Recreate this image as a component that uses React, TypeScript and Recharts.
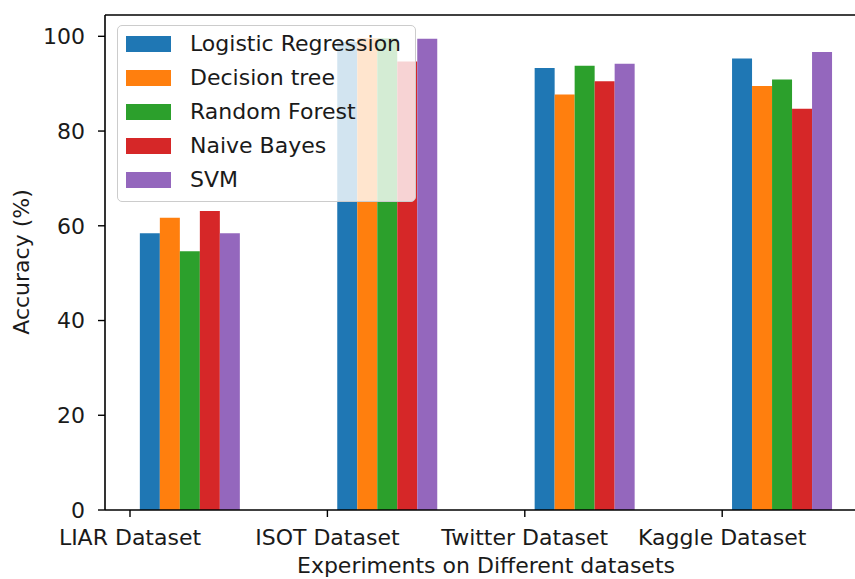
import { Bar, BarChart, Legend, ReferenceLine, XAxis, YAxis } from 'recharts';

const categories = ['LIAR Dataset', 'ISOT Dataset', 'Twitter Dataset', 'Kaggle Dataset'];
const logisticRegression = [58.4, 98.8, 93.3, 95.3];
const decisionTree = [61.7, 99.6, 87.7, 89.5];
const randomForest = [54.6, 99.6, 93.8, 90.9];
const naiveBayes = [63.1, 94.7, 90.5, 84.7];
const svm = [58.4, 99.5, 94.2, 96.7];
const yTicks = [0, 20, 40, 60, 80, 100];
const yMax = 104.5;

const series = [
  { key: 'lr', name: 'Logistic Regression', color: '#1f77b4', values: logisticRegression },
  { key: 'dt', name: 'Decision tree', color: '#ff7f0e', values: decisionTree },
  { key: 'rf', name: 'Random Forest', color: '#2ca02c', values: randomForest },
  { key: 'nb', name: 'Naive Bayes', color: '#d62728', values: naiveBayes },
  { key: 'svm', name: 'SVM', color: '#9467bd', values: svm },
];

const rows = categories.map((name, i) => {
  const row: Record<string, string | number> = { name };
  series.forEach(s => { row[s.key] = s.values[i]; });
  return row;
});

const FONT = '"DejaVu Sans", sans-serif';
const TEXT = '#1a1a1a';
// matplotlib puts the tick at the left of each group: group centre - 0.3 of a step
const TICK_SHIFT = 59.2;

function DatasetTick({ x, y, payload }: any) {
  const tx = x - TICK_SHIFT;
  return (
    <g>
      <line x1={tx} y1={y - 7} x2={tx} y2={y} stroke="#000" strokeWidth={1.4} />
      <text x={tx} y={y + 28} textAnchor="middle" fontFamily={FONT} fontSize={22} fill={TEXT}>
        {payload.value}
      </text>
    </g>
  );
}

// legend keeps the plotting order of the series (recharts would sort it)
function LegendBox() {
  return (
    <div
      style={{
        width: 299,
        height: 177,
        boxSizing: 'border-box',
        background: 'rgba(255,255,255,0.8)',
        border: '1.5px solid #cccccc',
        borderRadius: 5,
        paddingTop: 1,
        fontFamily: FONT,
        fontSize: 22,
        color: TEXT,
      }}
    >
      {series.map(s => (
        <div key={s.key} style={{ display: 'flex', alignItems: 'center', height: 34 }}>
          <span style={{ width: 45, height: 16, marginLeft: 8, background: s.color, display: 'inline-block' }} />
          <span style={{ marginLeft: 19, lineHeight: '22px' }}>{s.name}</span>
        </div>
      ))}
    </div>
  );
}

export default function App() {
  return (
    <div style={{ position: 'absolute', left: 0, top: 0, width: 855, height: 579, overflow: 'hidden', background: '#fff' }}>
      <BarChart
        width={870}
        height={579}
        data={rows}
        margin={{ top: 15, right: 3.3, bottom: 0, left: 0 }}
        barCategoryGap="25%"
        barGap={0}
      >
        <XAxis
          dataKey="name"
          height={69}
          padding={{ left: -14.5, right: -13.4 }}
          tickLine={false}
          tickSize={7}
          tickMargin={0}
          tick={<DatasetTick />}
          interval={0}
          axisLine={{ stroke: '#000', strokeWidth: 1.6 }}
          label={{
            content: () => (
              <text x={486} y={573} textAnchor="middle" fontFamily={FONT} fontSize={22} fill={TEXT}>
                Experiments on Different datasets
              </text>
            ),
          }}
        />
        <YAxis
          width={105}
          domain={[0, yMax]}
          ticks={yTicks}
          tickSize={7}
          tickMargin={13}
          axisLine={{ stroke: '#000', strokeWidth: 1.6 }}
          tickLine={{ stroke: '#000', strokeWidth: 1.4 }}
          tick={{ fontFamily: FONT, fontSize: 22, fill: TEXT }}
          label={{
            content: () => (
              <text transform="translate(29, 262) rotate(-90)" textAnchor="middle" fontFamily={FONT} fontSize={22} fill={TEXT}>
                Accuracy (%)
              </text>
            ),
          }}
        />
        <ReferenceLine y={yMax} stroke="#000" strokeWidth={1.6} />
        {series.map(s => (
          <Bar key={s.key} dataKey={s.key} name={s.name} fill={s.color} isAnimationActive={false} />
        ))}
        <Legend
          layout="vertical"
          align="center"
          verticalAlign="middle"
          content={<LegendBox />}
          wrapperStyle={{ left: 117, top: 25, width: 299, height: 177 }}
        />
      </BarChart>
    </div>
  );
}
